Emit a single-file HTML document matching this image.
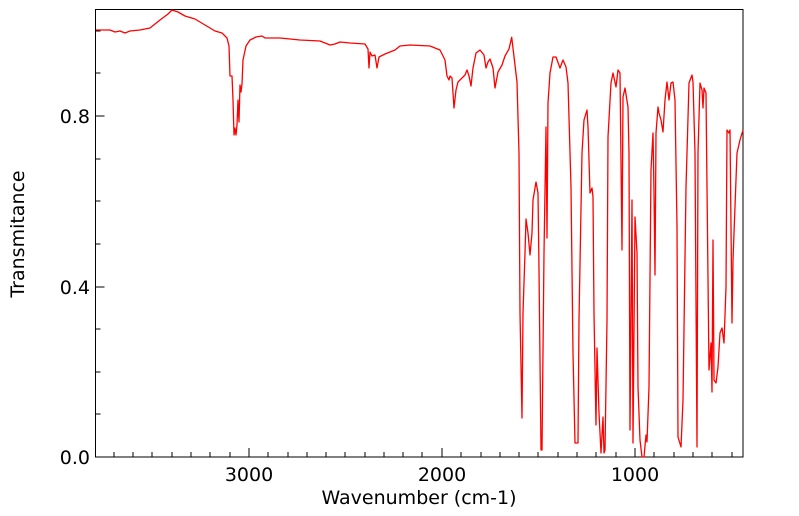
<!DOCTYPE html>
<html><head><style>body{margin:0;background:#fff}svg{display:block}text{font-family:"DejaVu Sans","Liberation Sans",sans-serif;fill:#000}</style></head>
<body>
<svg width="799" height="516" viewBox="0 0 799 516" xmlns="http://www.w3.org/2000/svg">
<rect x="95.5" y="9.5" width="647.5" height="447.5" fill="none" stroke="#000" stroke-width="1"/>
<g stroke="#000" stroke-width="1">
<path d="M95.5 457h9M95.5 287h9M95.5 116h9M95.5 414h5M95.5 372h5M95.5 329h5M95.5 244h5M95.5 201h5M95.5 159h5M95.5 73h5M95.5 31h5"/>
<path d="M249 457v-9M442 457v-9M635 457v-9M114 457v-5M133 457v-5M152 457v-5M172 457v-5M191 457v-5M210 457v-5M230 457v-5M268 457v-5M288 457v-5M307 457v-5M326 457v-5M345 457v-5M365 457v-5M384 457v-5M403 457v-5M422 457v-5M461 457v-5M481 457v-5M500 457v-5M519 457v-5M538 457v-5M558 457v-5M577 457v-5M596 457v-5M616 457v-5M654 457v-5M674 457v-5M693 457v-5M712 457v-5M732 457v-5"/>
</g>
<g font-size="19" text-anchor="end">
<text x="90" y="464">0.0</text><text x="90" y="294">0.4</text><text x="90" y="123">0.8</text>
</g>
<g font-size="19" text-anchor="middle">
<text x="249" y="481">3000</text><text x="442" y="481">2000</text><text x="635" y="481">1000</text>
<text x="419" y="504">Wavenumber (cm-1)</text>
<text transform="translate(24 234) rotate(-90)">Transmitance</text>
</g>
<polyline fill="none" stroke="#ff0000" stroke-width="1.3" stroke-linejoin="round" points="96,30 110,30 115,32 120,31 125,33 130,31 140,30 150,28 160,20 168,14 172,10 178,12 185,16 195,19 205,25 215,31 222,33 227,38 229,46 230,76 232,76 233,100 234,135 235,128 236,135 237,125 238,100 239,122 240,85 241,92 242,84 243,60 246,46 250,40 256,37 262,36 265,38 270,38 280,38 300,40 320,41 330,45 335,44 340,42 350,43 365,44 368,49 369,68 370,52 372,56 375,55 377,68 379,57 385,54 395,50 400,46 410,45 430,46 435,48 440,50 445,60 447,76 449,80 450,76 452,78 454,108 456,90 458,82 465,75 467,70 469,76 471,86 473,68 476,53 480,50 484,55 486,68 488,62 490,59 493,68 495,88 498,72 502,65 505,56 509,49 511.7,37.3 517,82 519,153 520,313 522,418 523,313 525,253 526,219 528,233 530,255 532,233 533,200 536,182 538,193 539,270 541,450 542,450 544,253 546,127 547,238 548,103 550,73 553,57 556,57 560,68 563,60 566,67 568,83 571,187 573,353 575,443 578,443 579,320 582,153 584,120 587,110 588,127 590,193 592,188 593,197 594,313 596,425 597,348 599,413 601,453 603,417 604,453 605,450 607,320 608,137 611,83 613,73 616,87 618,70 620,73 622,250 623,97 625,88 628,107 629,153 630,430 632,200 633,443 635,217 637,253 638,387 640,440 642,457 644,457 646,435 647,442 649,387 651,170 653,133 654,193 655,275 656,133 658,107 659,113 661,120 663,132 665,100 667,82 669,100 671,83 673,82 675,100 677,227 678,437 681,447 683,400 686,187 687,153 689,83 692,75 693,82 695,153 697,447 698,153 700,83 702,90 703,108 704,88 706,93 707,187 709,370 711,343 712,392 713,240 714,380 716,383 718,367 720,333 722,328 724,343 726,287 727,130 729,133 730,130 732,323 733,260 737,153 740,140 743,130"/>
</svg>
</body></html>
